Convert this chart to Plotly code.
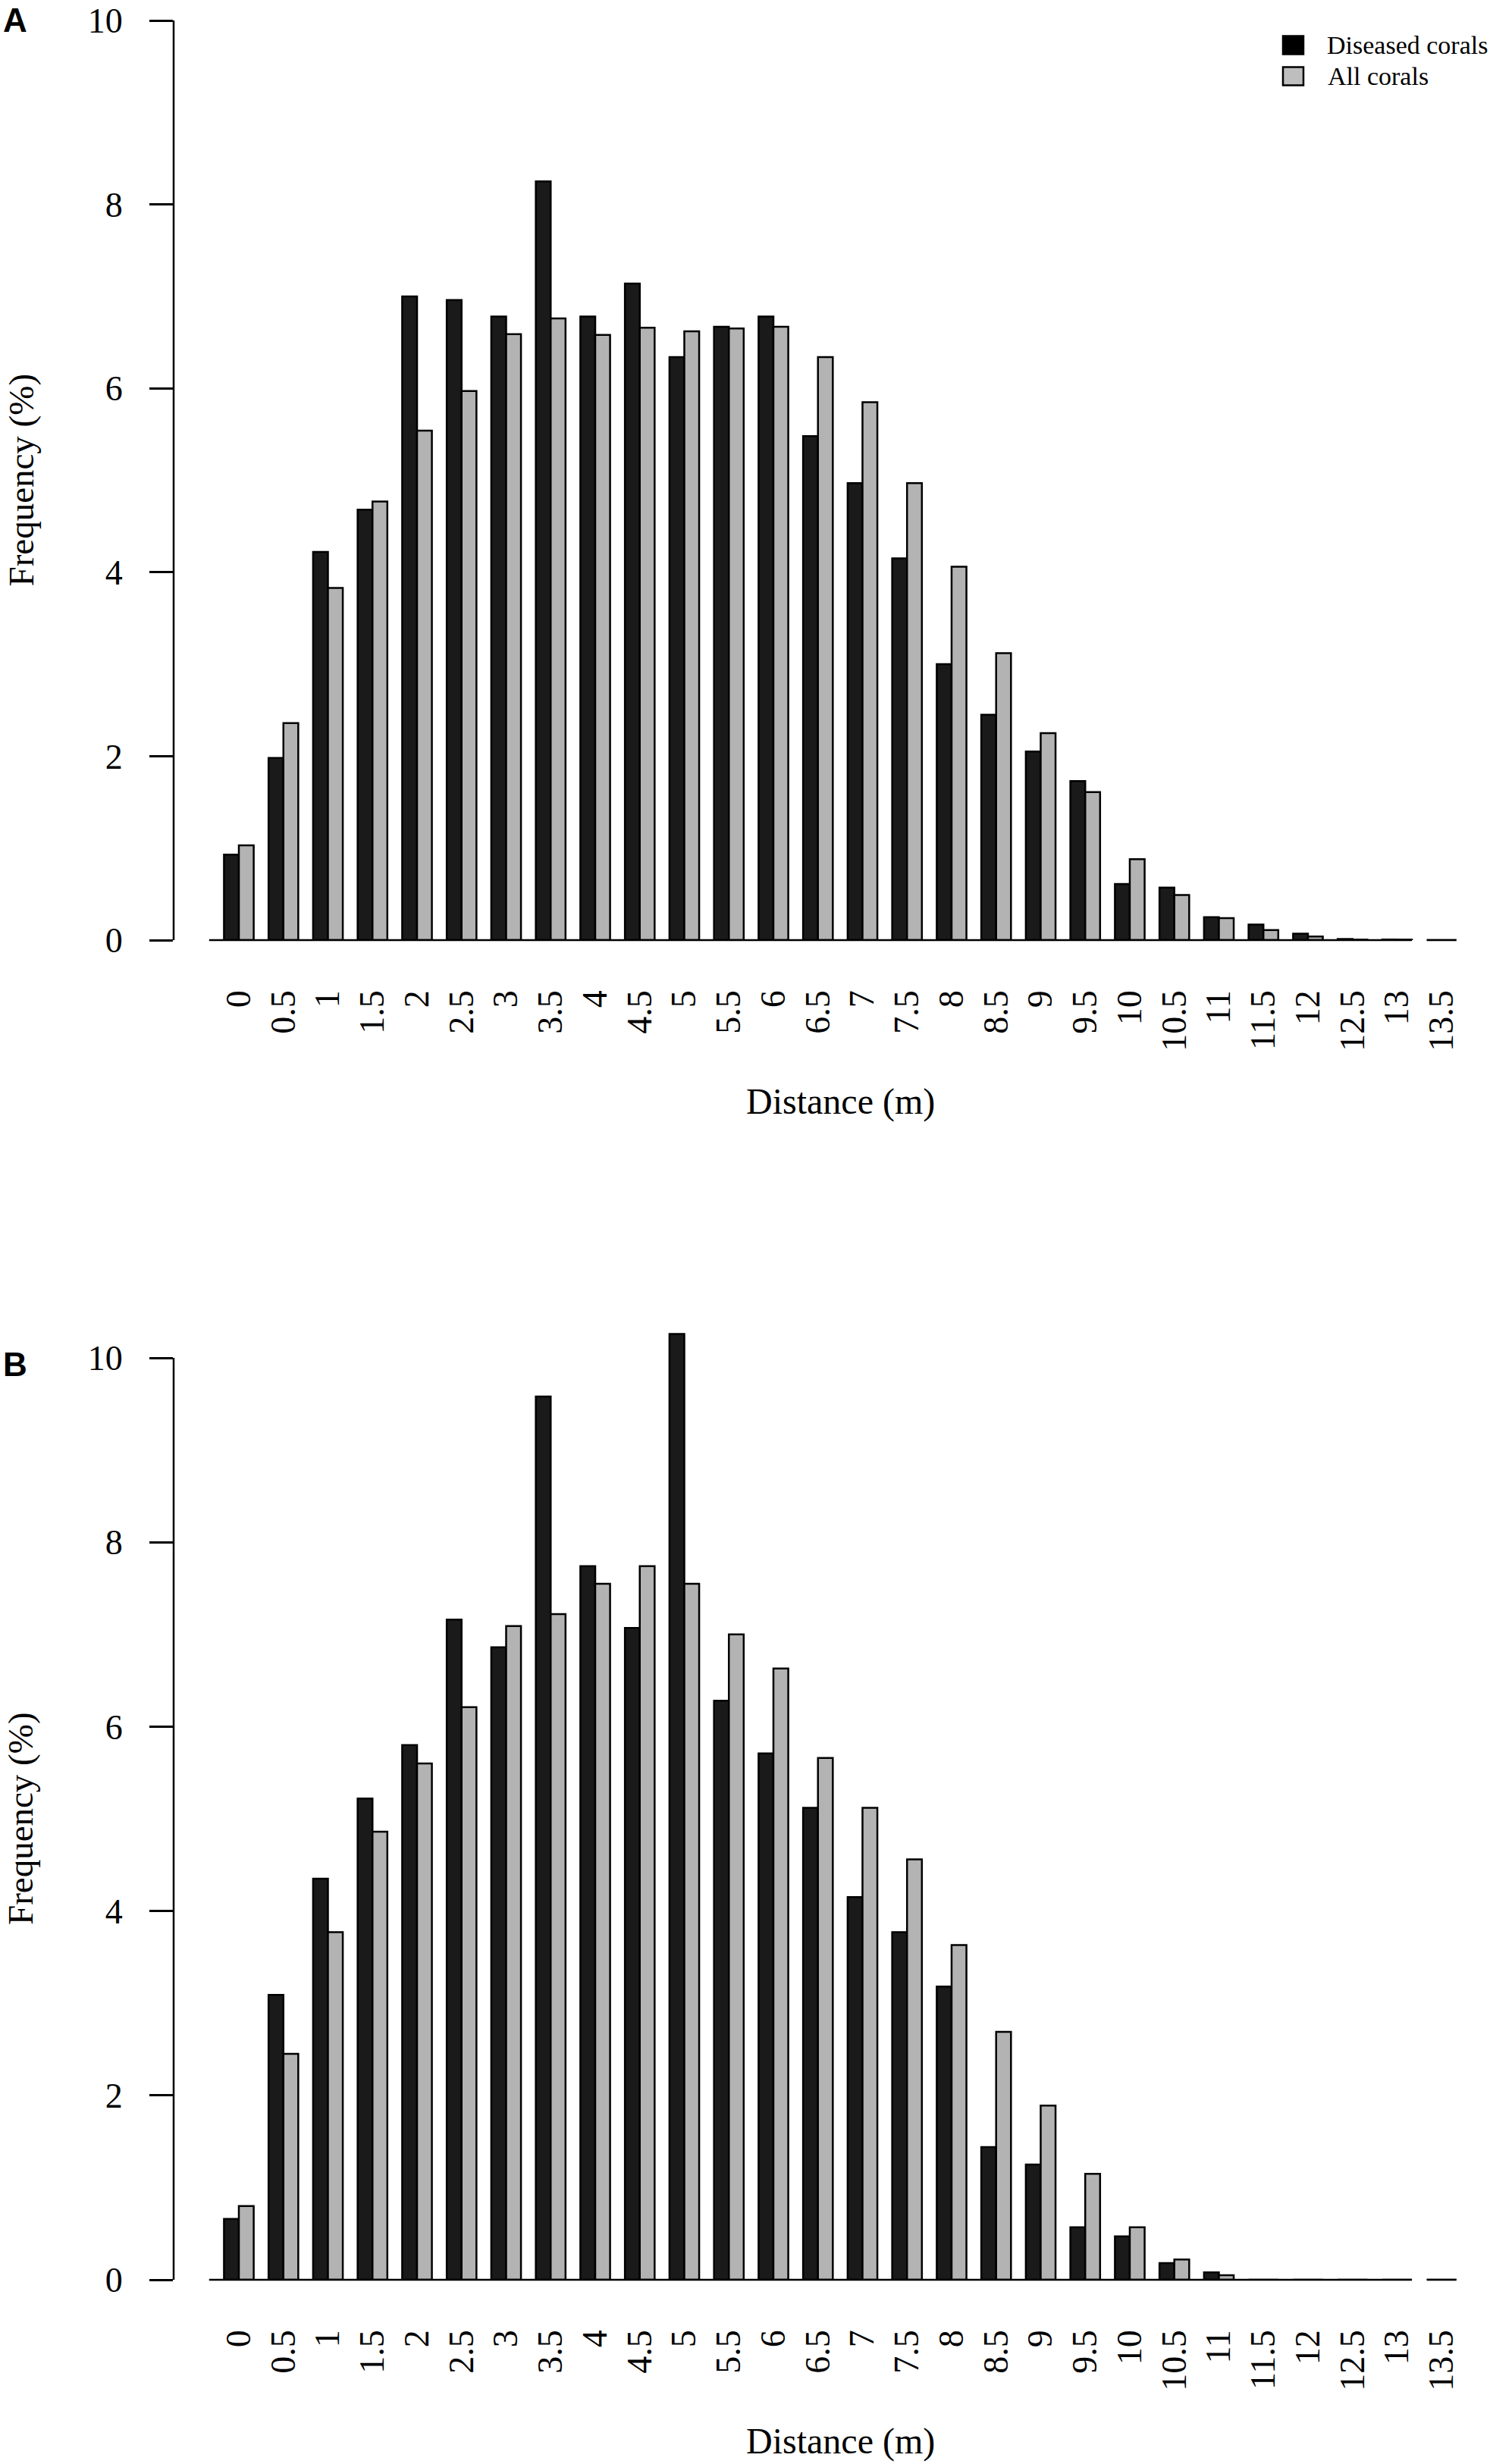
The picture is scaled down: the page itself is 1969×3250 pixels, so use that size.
import plotly.graph_objects as go

# distance classes (m)
distance_labels = ['0', '0.5', '1', '1.5', '2', '2.5', '3', '3.5', '4', '4.5',
                   '5', '5.5', '6', '6.5', '7', '7.5', '8', '8.5', '9', '9.5',
                   '10', '10.5', '11', '11.5', '12', '12.5', '13', '13.5']

# panel A frequencies (%)
a_diseased = [0.93, 1.98, 4.22, 4.68, 7.00, 6.96, 6.78, 8.25, 6.78, 7.14,
              6.34, 6.67, 6.78, 5.48, 4.97, 4.15, 3.00, 2.45, 2.05, 1.73,
              0.61, 0.57, 0.25, 0.17, 0.07, 0.012, 0.006, 0]
a_all = [1.03, 2.36, 3.83, 4.77, 5.54, 5.97, 6.59, 6.76, 6.58, 6.66,
         6.62, 6.65, 6.67, 6.34, 5.85, 4.97, 4.06, 3.12, 2.25, 1.61,
         0.88, 0.49, 0.24, 0.11, 0.04, 0.005, 0.005, 0]

# panel B frequencies (%)
b_diseased = [0.66, 3.09, 4.35, 5.22, 5.80, 7.16, 6.86, 9.58, 7.74, 7.07,
              10.26, 6.28, 5.71, 5.12, 4.15, 3.77, 3.18, 1.44, 1.25, 0.57,
              0.47, 0.18, 0.08, 0, 0, 0, 0, 0]
b_all = [0.80, 2.45, 3.77, 4.86, 5.60, 6.21, 7.09, 7.22, 7.55, 7.74,
         7.55, 7.00, 6.63, 5.66, 5.12, 4.56, 3.63, 2.69, 1.89, 1.15,
         0.57, 0.22, 0.05, 0, 0, 0, 0, 0]

y_ticks = [0, 2, 4, 6, 8, 10]
series_names = ['Diseased corals', 'All corals']
bar_colors = ['#1a1a1a', '#b3b3b3']
legend_colors = ['#000000', '#bebebe']

W, H = 1969, 3250
ML, MR, MT, MB = 229, 39, 18, 243
PW = W - ML - MR
PH = H - MT - MB
SERIF = 'Liberation Serif'
n = len(distance_labels)


def py(p):
    """pixel row -> paper y"""
    return (H - MB - p) / PH


def px(p):
    """pixel column -> paper x"""
    return (p - ML) / PW


fig = go.Figure()

panels = [('x', 'y', a_diseased, a_all), ('x2', 'y2', b_diseased, b_all)]
for xa, ya, dis, allc in panels:
    for name, vals, col in zip(series_names, [dis, allc], bar_colors):
        fig.add_trace(go.Bar(
            x=distance_labels, y=vals, name=name, xaxis=xa, yaxis=ya,
            marker=dict(color=col, line=dict(color='black', width=2.5)),
            showlegend=False,
        ))

xaxis_style = dict(
    type='category', categoryorder='array', categoryarray=distance_labels,
    range=[-1.464, n - 0.51], showline=False, showgrid=False, zeroline=False,
    ticks='', tickangle=-90, ticklabelstandoff=56, automargin=False,
    tickfont=dict(family=SERIF, size=46, color='black'),
)
yaxis_style = dict(
    tickvals=y_ticks, showline=False,
    ticks='outside', ticklen=31, tickwidth=2.5, tickcolor='black',
    showgrid=False, zeroline=False, ticklabelstandoff=26, automargin=False,
    ticklabeloverflow='allow',
    tickfont=dict(family=SERIF, size=46, color='black'),
)

# panel A: 0..10 fills its box (top kept low enough for the "10" label);
# panel B gets headroom for the 10.26 bar
a_bottom, a_top = 1240, 27
b_bottom, b_ten = 3007, 1791
b_top = b_ten - 0.5 * (b_bottom - b_ten) / 10
dom_a = [py(a_bottom), py(a_top)]
dom_b = [py(b_bottom), py(b_top)]

fig.update_layout(
    width=W, height=H,
    margin=dict(l=ML, r=MR, t=MT, b=MB, autoexpand=False),
    paper_bgcolor='white', plot_bgcolor='white',
    barmode='group', bargap=1 / 3, bargroupgap=0,
    xaxis=dict(**xaxis_style, anchor='y'),
    yaxis=dict(**yaxis_style, range=[0, 10], domain=dom_a, anchor='x'),
    xaxis2=dict(**xaxis_style, anchor='y2'),
    yaxis2=dict(**yaxis_style, range=[0, 10.5], domain=dom_b, anchor='x2'),
    font=dict(family=SERIF, color='black'),
)

shapes = []
annotations = []
for xr, yr, dom, letter, letter_top in [('x', 'y', dom_a, 'A', 0), ('x2', 'y2', dom_b, 'B', 1773)]:
    # y axis line from 0 to 10 only
    shapes.append(dict(type='line', xref='paper', yref=yr, x0=0, x1=0, y0=0, y1=10,
                       line=dict(color='black', width=2.5)))
    # baseline under the bars and the empty last class
    shapes.append(dict(type='line', xref=xr, yref='paper', x0=-2 / 3, x1=n - 2 + 1 / 3,
                       y0=dom[0], y1=dom[0], line=dict(color='black', width=2.5)))
    shapes.append(dict(type='line', xref=xr, yref='paper', x0=n - 1 - 1 / 3, x1=n - 1 + 1 / 3,
                       y0=dom[0], y1=dom[0], line=dict(color='black', width=2.5)))
    annotations.append(dict(text='Distance (m)', xref=xr, yref=yr, x=(n - 1) / 2, y=0,
                            yshift=-213, showarrow=False, xanchor='center', yanchor='middle',
                            font=dict(family=SERIF, size=48, color='black')))
    annotations.append(dict(text='Frequency (%)', xref='paper', yref=yr, x=px(27),
                            y=5, textangle=-90, showarrow=False,
                            xanchor='center', yanchor='middle',
                            font=dict(family=SERIF, size=47, color='black')))
    annotations.append(dict(text='<b>%s</b>' % letter, xref='paper', yref='paper',
                            x=px(2), y=py(letter_top), showarrow=False,
                            xanchor='left', yanchor='top',
                            font=dict(family='Liberation Sans', size=44, color='black')))

# legend (panel A, top right)
leg_rows = [59.5, 100.5]
for name, col, cy in zip(series_names, legend_colors, leg_rows):
    shapes.append(dict(type='rect', xref='paper', yref='paper',
                       x0=px(1692), x1=px(1719), y0=py(cy - 12), y1=py(cy + 12),
                       fillcolor=col, line=dict(color='black', width=2.5)))
annotations.append(dict(text=series_names[0], xref='paper', yref='paper',
                        x=px(1964), y=py(leg_rows[0]), showarrow=False,
                        xanchor='right', yanchor='middle',
                        font=dict(family=SERIF, size=34, color='black')))
annotations.append(dict(text=series_names[1], xref='paper', yref='paper',
                        x=px(1749), y=py(leg_rows[1]), showarrow=False,
                        xanchor='left', yanchor='middle',
                        font=dict(family=SERIF, size=34, color='black')))

fig.update_layout(shapes=shapes, annotations=annotations)

# the page itself must not add a margin (it would push the figure and add a scrollbar)
fig.write_html('out.html',
               config={'displayModeBar': False},
               post_script="document.body.style.margin='0px';"
                           "document.body.style.overflow='hidden';")
